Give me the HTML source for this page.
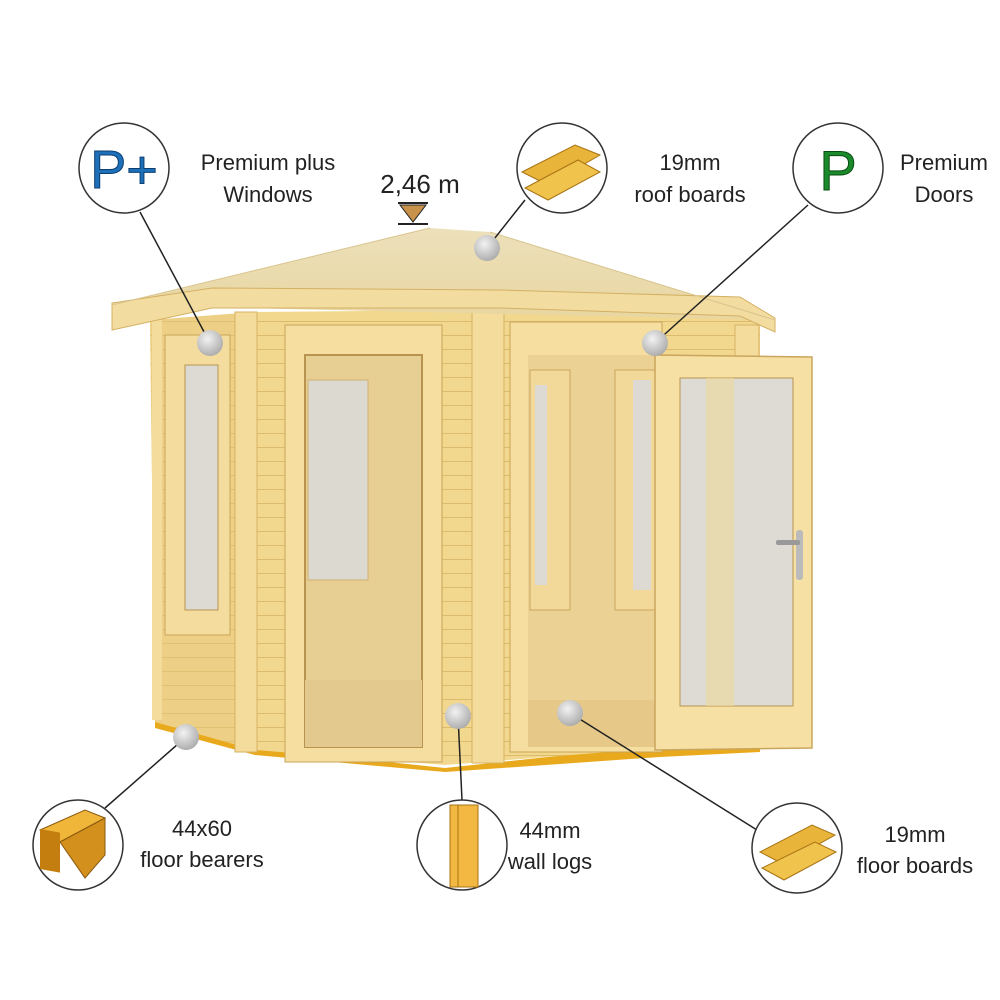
<!DOCTYPE html>
<html><head><meta charset="utf-8"><style>
html,body{margin:0;padding:0;background:#fff;}
svg{display:block;}
text{font-family:"Liberation Sans",sans-serif;fill:#222;}
</style></head><body>
<svg width="1000" height="1000" viewBox="0 0 1000 1000" xmlns="http://www.w3.org/2000/svg">
<defs>
<linearGradient id="roof" x1="0" y1="0" x2="0" y2="1"><stop offset="0" stop-color="#ece0bb"/><stop offset="1" stop-color="#e9d6a0"/></linearGradient>
<radialGradient id="dot" cx="0.4" cy="0.35" r="0.7"><stop offset="0" stop-color="#f2f2f2"/><stop offset="1" stop-color="#a9a9a9"/></radialGradient>
<pattern id="logs" width="20" height="14" patternUnits="userSpaceOnUse"><rect width="20" height="14" fill="#f2d88e"/><line x1="0" y1="13.5" x2="20" y2="13.5" stroke="#dcbb6c" stroke-width="1"/></pattern>
</defs>

<polygon points="155,718 255,748 445,768 660,745 760,740 760,752 660,757 445,772 255,755 155,728" fill="#e9a91c"/>
<polygon points="150,320 255,312 475,310 760,318 760,745 660,748 445,765 255,750 155,722" fill="url(#logs)"/>
<polygon points="150,320 255,312 255,750 155,722" fill="#e6c77a" opacity="0.45"/>
<rect x="235" y="312" width="22" height="440" fill="#f4dc9c" stroke="#d6b264" stroke-width="1"/>
<rect x="472" y="308" width="32" height="455" fill="#f4dc9c" stroke="#d6b264" stroke-width="1"/>
<rect x="152" y="320" width="10" height="400" fill="#f4dc9c"/>
<rect x="165" y="335" width="65" height="300" fill="#f3dc9e" stroke="#caa458"/>
<rect x="185" y="365" width="33" height="245" fill="#dcdad2" stroke="#b89450"/>
<rect x="285" y="325" width="157" height="437" fill="#f5de9f" stroke="#caa458"/>
<rect x="305" y="355" width="117" height="392" fill="#e7cf93" stroke="#b89450" stroke-width="2"/>
<rect x="308" y="380" width="60" height="200" fill="#dcdad0" stroke="#d0b070"/>
<rect x="305" y="680" width="117" height="67" fill="#e3c98d"/>
<rect x="510" y="322" width="152" height="430" fill="#f5de9f" stroke="#caa458"/>
<rect x="528" y="355" width="130" height="392" fill="#ecd194"/>
<rect x="530" y="370" width="40" height="240" fill="#f2d999" stroke="#c9a55d"/>
<rect x="535" y="385" width="12" height="200" fill="#dcdad2"/>
<rect x="615" y="370" width="40" height="240" fill="#f2d999" stroke="#c9a55d"/>
<rect x="633" y="380" width="18" height="210" fill="#dcdad2"/>
<polygon points="528,700 658,700 658,747 528,747" fill="#e6c988"/>
<rect x="735" y="325" width="24" height="415" fill="#f4dc9c" stroke="#d6b264"/>
<polygon points="655,355 812,357 812,748 655,750" fill="#f6e0a3" stroke="#c9a55d" stroke-width="1.5"/>
<rect x="680" y="378" width="113" height="328" fill="#dddbd3" stroke="#b89450"/>
<rect x="706" y="378" width="28" height="328" fill="#f0d899" opacity="0.6"/>
<rect x="796" y="530" width="7" height="50" rx="3" fill="#bbb"/>
<rect x="776" y="540" width="24" height="5" rx="2" fill="#999"/>
<polygon points="112,305 430,228 490,232 775,320" fill="url(#roof)"/>
<polygon points="112,303 212,288 500,290 740,297 775,318 775,332 740,316 500,308 212,308 112,330" fill="#f3dca0" stroke="#d3b064" stroke-width="1"/>
<line x1="112" y1="305" x2="430" y2="228" stroke="#d8c48e"/>
<line x1="490" y1="232" x2="775" y2="320" stroke="#d8c48e"/>

<g stroke="#222" stroke-width="1.5" fill="none">
<line x1="140" y1="212" x2="210" y2="343"/>
<line x1="525" y1="200" x2="487" y2="248"/>
<line x1="808" y1="205" x2="655" y2="343"/>
<line x1="105" y1="808" x2="186" y2="737"/>
<line x1="462" y1="800" x2="458" y2="716"/>
<line x1="757" y1="830" x2="570" y2="713"/>
</g>
<g fill="url(#dot)">
<circle cx="210" cy="343" r="13"/><circle cx="487" cy="248" r="13"/><circle cx="655" cy="343" r="13"/>
<circle cx="186" cy="737" r="13"/><circle cx="458" cy="716" r="13"/><circle cx="570" cy="713" r="13"/>
</g>

<g fill="#fff" stroke="#333" stroke-width="1.5">
<circle cx="124" cy="168" r="45"/><circle cx="562" cy="168" r="45"/><circle cx="838" cy="168" r="45"/>
<circle cx="78" cy="845" r="45"/><circle cx="462" cy="845" r="45"/><circle cx="797" cy="848" r="45"/>
</g>
<text x="124" y="188" font-size="54" text-anchor="middle" style="fill:#1d6fb8;stroke:#0c3f70;stroke-width:1">P+</text>
<text x="838" y="190" font-size="56" text-anchor="middle" style="fill:#1a8a2a;stroke:#0b4d15;stroke-width:1">P</text>
<polygon points="522,172 575,145 600,155 548,185" fill="#e8b43a" stroke="#a87414"/>
<polygon points="525,188 578,160 600,172 548,200" fill="#f0c34c" stroke="#a87414"/>
<polygon points="760,852 812,825 835,835 783,864" fill="#e8b43a" stroke="#a87414"/>
<polygon points="762,868 815,842 836,852 784,880" fill="#f0c34c" stroke="#a87414"/>
<polygon points="40,830 85,810 105,818 60,842" fill="#f0b63a" stroke="#8a5a10"/>
<polygon points="60,842 105,818 105,855 85,878" fill="#d3901c" stroke="#8a5a10"/>
<rect x="40" y="830" width="20" height="40" fill="#c47e10" transform="skewY(10) translate(0,-8)"/>
<rect x="450" y="805" width="28" height="82" fill="#f2b842" stroke="#a87414"/>
<line x1="458" y1="805" x2="458" y2="887" stroke="#a87414"/>

<g font-size="22" text-anchor="middle">
<text x="268" y="170">Premium plus</text><text x="268" y="202">Windows</text>
<text x="690" y="170">19mm</text><text x="690" y="202">roof boards</text>
<text x="944" y="170">Premium</text><text x="944" y="202">Doors</text>
<text x="202" y="836">44x60</text><text x="202" y="867">floor bearers</text>
<text x="550" y="838">44mm</text><text x="550" y="869">wall logs</text>
<text x="915" y="842">19mm</text><text x="915" y="873">floor boards</text>
</g>
<text x="420" y="193" font-size="26" text-anchor="middle">2,46 m</text>
<line x1="398" y1="203" x2="428" y2="203" stroke="#222" stroke-width="2"/>
<polygon points="400,205 426,205 413,222" fill="#c9924a" stroke="#222"/>
<line x1="398" y1="224" x2="428" y2="224" stroke="#222" stroke-width="2"/>
</svg>
</body></html>
